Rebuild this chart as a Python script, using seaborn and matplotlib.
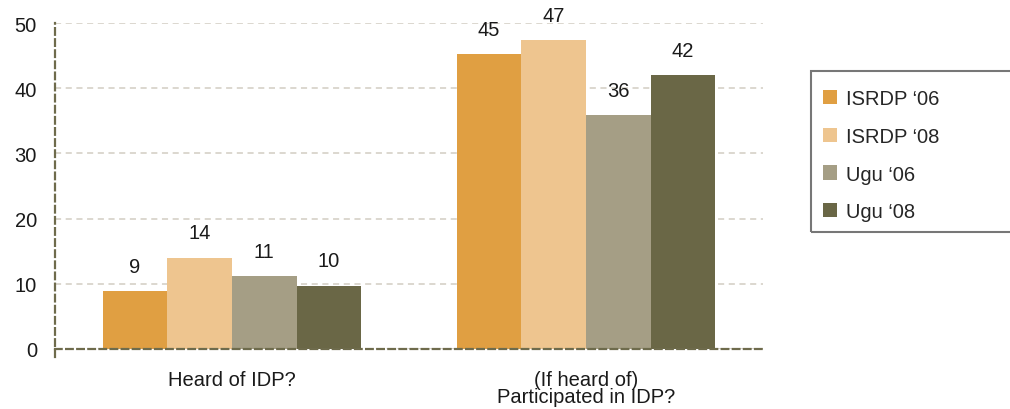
import matplotlib
matplotlib.use("Agg")
import matplotlib.pyplot as plt
from matplotlib.patches import Patch, Rectangle
import seaborn as sns
import pandas as pd

# Survey responses (%) by programme and year
questions = ["Heard of IDP?", "(If heard of)\nParticipated in IDP?"]
series = ["ISRDP \u201806", "ISRDP \u201808", "Ugu \u201806", "Ugu \u201808"]
isrdp_06 = [8.9, 45.2]
isrdp_08 = [14.0, 47.4]
ugu_06 = [11.2, 35.9]
ugu_08 = [9.7, 42.0]
y_ticks = [0, 10, 20, 30, 40, 50]

colors = ["#E09F42", "#EEC58F", "#A59E85", "#6A6746"]
spine_color = "#6E6B4C"
grid_color = "#D2CDC2"
text_color = "#1a1a1a"
fs = 14.5

rows = []
for name, vals in zip(series, [isrdp_06, isrdp_08, ugu_06, ugu_08]):
    for q, v in zip(questions, vals):
        rows.append({"question": q, "series": name, "value": v})
df = pd.DataFrame(rows)

sns.set_theme(style="white")
plt.rcParams["font.family"] = ["Liberation Sans", "DejaVu Sans"]

fig = plt.figure(figsize=(10.1, 4.1), dpi=100)
ax = fig.add_axes([55 / 1010, 60 / 410, 708 / 1010, 326 / 410])

sns.barplot(data=df, x="question", y="value", hue="series", order=questions,
            hue_order=series, palette=colors, width=0.73, saturation=1,
            errorbar=None, ax=ax, legend=False, edgecolor="none", linewidth=0)

ax.set_xlim(-0.5, 1.5)
ax.set_ylim(0, 50)
ax.set_yticks(y_ticks)
ax.set_xlabel("")
ax.set_ylabel("")

# Value labels above each bar
for cont in ax.containers:
    for bar in cont:
        h = bar.get_height()
        ax.annotate(f"{h:.0f}", (bar.get_x() + bar.get_width() / 2, h),
                    xytext=(0, 11), textcoords="offset points",
                    ha="center", va="bottom", fontsize=fs, color=text_color)

# Dashed grid and axis lines
ax.yaxis.grid(True, linestyle=(0, (4, 3)), color=grid_color, linewidth=1.1)
ax.set_axisbelow(True)
for side in ["top", "right"]:
    ax.spines[side].set_visible(False)
for side in ["left", "bottom"]:
    ax.spines[side].set_color(spine_color)
    ax.spines[side].set_linewidth(1.6)
    ax.spines[side].set_linestyle((0, (3, 2)))
    ax.spines[side].set_zorder(5)
ax.spines["left"].set_bounds(-1.2, 50)

ax.tick_params(axis="y", which="major", length=6, width=1.3, color=spine_color,
               labelsize=fs, labelcolor=text_color, pad=7, direction="out")
ax.tick_params(axis="x", which="major", length=0, labelsize=fs,
               labelcolor=text_color, pad=15)
ax.set_xticks([0.5, 1.5], minor=True)
ax.tick_params(axis="x", which="minor", length=6, width=1.3, color=spine_color,
               direction="out")
ax.set_xticklabels(questions, linespacing=0.9)

# Legend with its own frame
handles = [Patch(facecolor=c, edgecolor="none") for c in colors]
fig.legend(handles, series, loc="upper left",
           bbox_to_anchor=(813 / 1010, (410 - 80) / 410), frameon=False,
           fontsize=fs, handlelength=0.7, handleheight=0.7,
           handletextpad=0.45, labelspacing=0.93, borderpad=0)
fig.patches.append(Rectangle((811 / 1010, (410 - 233) / 410), 210 / 1010,
                             161 / 410, transform=fig.transFigure,
                             fill=False, edgecolor="#777777", linewidth=1.5))

fig.savefig("out.png", dpi=100)
